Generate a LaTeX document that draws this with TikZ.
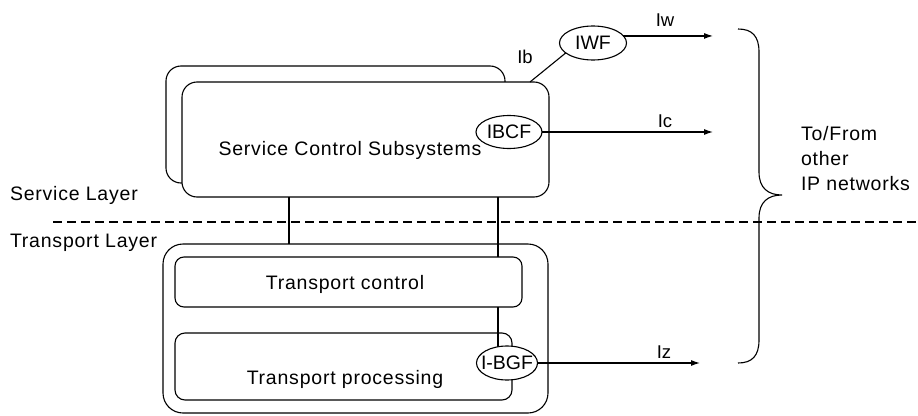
\documentclass[tikz,border=0pt]{standalone}
\usepackage{fontspec}
\setmainfont{Liberation Sans}[LetterSpace=4]
\newfontfamily\plainfont{Liberation Sans}
\usetikzlibrary{arrows.meta,shapes.geometric}
\begin{document}
\begin{tikzpicture}[x=1pt,y=-1pt,
  every node/.style={font=\fontsize{19.5}{24}\selectfont, inner sep=0pt, outer sep=0pt},
  box/.style={draw, fill=white, line width=1.1pt},
  fe/.style={draw, ellipse, fill=white, line width=1.1pt},
  felbl/.style={font=\plainfont\fontsize{19.5}{24}\selectfont},
  ln/.style={line width=1.1pt},
  arr/.style={line width=1.1pt, -{Latex[length=9pt,width=6pt]}},
  ilbl/.style={anchor=base, font=\plainfont\fontsize{18.5}{22}\selectfont},
  dline/.style={line width=1.1pt, dash pattern=on 9pt off 5pt}
]
\useasboundingbox (0,0) rectangle (918,415);

% layer separator
\coordinate (dl) at (53,222);
\coordinate (dr) at (918,222);
\draw[dline] (dl) -- (dr);

% service control subsystems (stacked)
\node[box, rounded corners=15pt, minimum width=339pt, minimum height=117pt] (back) at (335.5,124.5) {};
\node[box, rounded corners=15pt, minimum width=367pt, minimum height=115pt] (scs) at (365.5,139.5) {};
\node[anchor=base] (scstext) at (350,155) {Service Control Subsystems};

% transport layer boxes
\node[box, rounded corners=20pt, minimum width=385pt, minimum height=169pt] (tl) at (355.5,328.5) {};
\node[box, rounded corners=9pt, minimum width=347pt, minimum height=50pt] (tc) at (348.5,282) {};
\node[box, rounded corners=10pt, minimum width=337pt, minimum height=67pt] (tp) at (343.5,366.5) {};
\node[anchor=base] (tctext) at (345,289) {Transport control};
\node[anchor=base] (tptext) at (345,384) {Transport processing};

% layer labels
\node[anchor=base west] (sl) at (10,200) {Service Layer};
\node[anchor=base west] (tlay) at (10,247) {Transport Layer};

% functional entities
\node[fe, minimum width=67pt, minimum height=34pt, label={[felbl]center:IWF}] (iwf) at (593,43) {};
\node[fe, minimum width=66pt, minimum height=33pt, label={[felbl]center:IBCF}] (ibcf) at (509,132) {};

% vertical links
\coordinate (vl) at (289,0);
\coordinate (vr) at (498,0);
\draw[ln] (scs.south -| vl) -- (tl.north -| vl);
\draw[ln] (scs.south -| vr) -- (tc.north -| vr);
\draw[ln] (tc.south -| vr) -- (vr |- 0,352);

\node[fe, minimum width=61pt, minimum height=34pt, label={[felbl]center:I-BGF}] (ibgf) at (507,363) {};

% Ib link
\coordinate (ibs) at (530,82);
\draw[ln] (ibs) -- (iwf.200);
\node[ilbl] (iblbl) at (525,63) {Ib};

% outgoing interfaces
\coordinate (iwend) at (713,0);
\coordinate (icend) at (713,0);
\coordinate (izend) at (700,0);
\draw[arr] (iwf.13) -- (iwf.13 -| iwend);
\draw[arr] (ibcf.east) -- (ibcf.east -| icend);
\draw[arr] (ibgf.east) -- (ibgf.east -| izend);
\node[ilbl] (iwlbl) at (665,27) {Iw};
\node[ilbl] (iclbl) at (665,127) {Ic};
\node[ilbl] (izlbl) at (664,358) {Iz};

% brace
\draw[ln] (738,29) .. controls (752,29) and (759,36) .. (759,52)
  -- (759,172) .. controls (759,188) and (768,195) .. (782,195)
  .. controls (768,195) and (759,202) .. (759,218)
  -- (759,340) .. controls (759,356) and (752,363) .. (738,363);

\node[anchor=base west] (t1) at (801,140) {To/From};
\node[anchor=base west] (t2) at (801,165) {other};
\node[anchor=base west] (t3) at (801,190) {IP networks};
\end{tikzpicture}
\end{document}
